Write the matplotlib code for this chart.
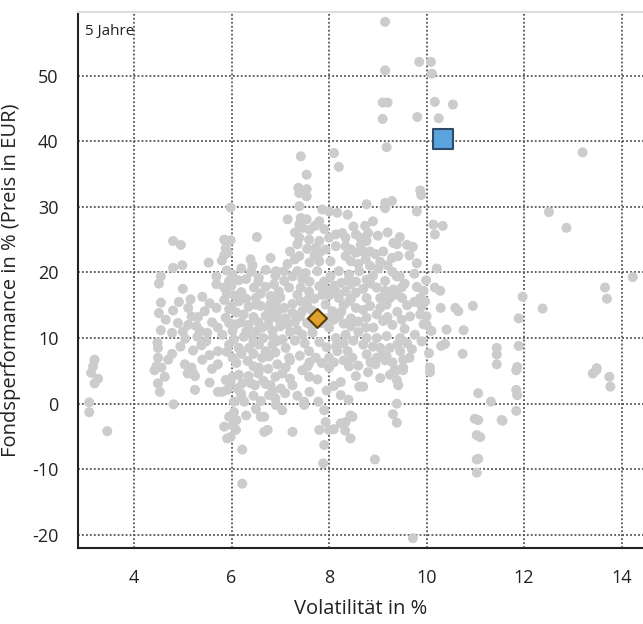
import matplotlib
matplotlib.use("Agg")
import matplotlib.pyplot as plt

# ---------- Data ----------
# peer group funds: volatility (%) and 5y performance (%)
peer_vol = [
    3.08, 3.08, 3.45, 3.12, 3.26, 3.19, 3.19, 3.16,
    4.49, 4.53, 4.63, 4.81, 5.21, 5.25, 5.25, 5.72, 4.42,
    4.80, 4.96, 4.80, 4.99, 5.53, 4.55, 4.51, 5.69, 5.69, 4.55, 4.51, 4.80, 4.92,
    5.16, 5.11, 5.18, 5.45, 5.31, 5.11, 5.28, 5.35, 5.69, 5.72, 4.55, 4.78, 4.48,
    4.49, 5.21, 5.38, 5.48, 4.78, 4.70, 4.49, 4.46, 4.56, 5.04, 5.18, 5.72, 5.72,
    7.39, 7.54, 5.98, 7.39, 7.86, 8.00, 8.17, 8.38, 7.15, 7.42, 7.54, 7.39, 7.45,
    7.71, 6.52, 5.98, 5.88, 5.92, 5.85, 7.39, 7.59, 7.80, 8.00, 8.14, 8.27, 8.34,
    7.73, 7.80, 7.93, 8.14, 8.34, 8.55, 6.80, 6.39, 6.43, 7.39, 7.80, 8.03, 8.34,
    8.45, 8.55, 6.02, 5.95, 5.85, 6.56, 6.46, 6.91, 7.08, 6.87, 7.08, 7.18, 6.97,
    7.35, 7.52, 7.76, 8.03, 8.20, 8.41, 8.62, 7.42, 7.59, 7.80, 7.86, 8.14, 8.34,
    8.45, 6.15, 5.95, 5.88, 6.09, 6.02, 5.81, 6.50, 6.60, 6.77, 6.91, 7.08, 7.25,
    6.77, 6.97, 7.15, 6.63, 6.84, 6.43, 7.42, 7.59, 7.45, 7.93, 8.07, 8.20, 8.41,
    8.55, 7.45, 7.66, 8.00, 8.14, 8.34, 8.45, 5.95, 6.15, 6.36, 6.56, 6.84, 7.11,
    6.02, 6.33, 6.63, 6.77, 6.94, 7.18, 7.59, 7.73, 8.00, 8.17, 8.38, 8.48, 6.56,
    7.11, 7.56, 8.00, 8.41,
    9.89, 8.77, 9.15, 9.29, 9.15, 9.80, 10.14, 10.33, 10.17, 8.74, 8.64, 8.77,
    8.84, 8.70, 9.11, 9.32, 9.39, 9.29, 9.42, 9.72, 8.84, 9.01, 8.77, 9.39, 9.15,
    8.98, 9.15, 9.32, 9.49, 9.05, 9.25, 9.39, 10.21, 9.99, 10.17, 10.28, 9.94,
    9.87, 9.97, 8.77, 8.84, 9.05, 9.18, 8.98, 8.77, 9.49, 9.66, 9.87, 10.00, 9.94,
    9.76, 10.29, 10.59, 10.65, 10.95, 8.91, 9.11, 8.77, 8.98, 9.18, 9.46, 9.05,
    9.25, 10.41, 10.76, 10.38, 10.74, 11.44, 11.44, 11.44, 8.77, 8.98, 9.18, 9.46,
    9.52, 9.52, 10.07,
    5.88, 6.02, 6.15, 6.22, 6.12, 5.91, 5.81, 6.19, 6.26, 6.05, 5.98,
    6.48, 6.77, 6.80, 7.01, 6.56, 7.04, 6.91, 7.04, 7.49, 7.49, 7.78, 7.45, 7.59,
    7.76, 8.24, 8.24, 8.62, 5.95, 6.02, 6.09, 5.91, 5.98, 6.22, 6.22, 6.60, 6.67,
    6.67, 6.74, 7.25, 7.80, 7.93, 7.90, 7.88, 8.00, 8.10, 8.24, 8.34, 8.44, 8.48,
    8.33, 8.44,
    8.70, 9.39, 9.52, 9.39, 9.42, 10.07, 9.39, 9.31, 9.39, 8.94, 9.72, 11.06,
    11.32, 10.99, 11.06, 11.03, 11.10, 11.03, 11.06, 11.03, 11.54,
    11.84, 11.84, 11.86, 11.84, 11.56, 13.41, 13.48, 13.75, 13.77,
    12.51, 12.87, 14.23, 13.66, 13.70, 11.97, 12.38, 11.89, 11.89, 11.86, 13.49,
    13.20,
    9.15, 9.85, 10.09, 9.15, 10.11, 9.10, 9.20, 10.17, 10.54, 9.10, 9.81, 10.25,
    9.18, 9.87,
    7.42, 8.10, 8.20, 7.54, 7.37, 7.54,
    # denser core
    5.85, 5.90, 6.05, 6.20, 6.30, 6.35, 6.25, 6.10, 5.95, 6.20, 6.35, 6.45, 6.55,
    6.70, 6.85, 6.95, 6.60, 6.70, 6.80, 6.55, 6.30, 6.15, 6.00, 6.40, 6.70, 6.90,
    6.20, 5.90, 6.05, 6.25, 6.45, 6.65, 6.85, 6.95, 6.20, 6.45, 6.70, 6.90, 5.90,
    6.10, 6.45, 6.75, 6.30, 6.00, 6.50, 6.80, 7.00, 7.00, 6.75, 6.50,
    7.10, 7.30, 7.40, 7.55, 7.35, 7.20, 7.05, 7.30, 7.50, 7.25, 7.35, 7.55, 7.65,
    7.60, 7.45, 7.25, 7.15, 7.30, 7.60, 7.70, 7.55, 7.35, 7.20, 7.90, 7.95, 7.70,
    7.95, 7.85, 8.00, 7.20, 7.40, 7.60, 7.85, 7.95, 7.80, 7.65, 7.30, 7.60, 7.90,
    7.80,
    8.10, 8.20, 8.30, 8.45, 8.60, 8.75, 8.60, 8.50, 8.30, 8.15, 8.70, 8.90, 8.85,
    8.60, 8.30, 8.10, 8.55, 8.70, 8.85, 8.90, 8.60, 8.75, 8.95, 9.05, 9.20, 9.30,
    9.45, 9.55, 9.50, 9.60, 9.40, 9.20, 9.30, 9.55, 9.60, 9.40, 9.10, 9.30, 9.65,
    9.70, 8.45, 8.30, 8.25, 8.70, 8.55, 8.40, 8.25, 8.10, 8.45, 8.65, 8.80, 8.50,
    8.90, 9.00, 9.20, 9.45, 9.60, 9.65, 9.80, 9.75, 9.80, 9.90, 9.75, 10.00,
    10.10, 9.90, 10.05, 10.30,
    6.35, 6.45, 6.60, 6.90, 7.10, 7.25, 7.35, 7.60, 7.95, 8.10, 8.40, 8.55, 7.90,
    7.20, 6.90, 6.65, 6.10, 6.30, 6.50, 5.85, 6.05, 6.20, 6.40, 6.55,
    4.65, 4.90, 5.00, 5.05, 4.95, 5.30, 5.50, 5.60, 5.55, 5.40, 5.00, 5.55, 5.40,
    5.60, 5.10, 5.55, 5.80, 5.85,
    8.95, 9.15, 9.35, 8.80, 9.05, 9.25, 6.70, 6.85,
]
peer_perf = [
    0.2, -1.3, -4.2, 4.7, 3.8, 3.1, 6.7, 5.7,
    3.1, 1.8, 4.1, -0.1, 4.7, 4.2, 2.1, 1.8, 5.1,
    24.8, 24.2, 20.7, 21.1, 21.5, 19.4, 18.3, 19.4, 18.2, 15.4, 13.8, 14.2, 15.5,
    15.9, 14.6, 13.3, 14.1, 13.2, 12.0, 11.8, 11.1, 14.6, 11.6, 11.2, 10.8, 9.3,
    8.5, 8.1, 8.9, 9.5, 7.6, 6.7, 7.0, 5.7, 5.5, 6.0, 5.5, 8.0, 6.0,
    32.1, 31.6, 29.9, 30.1, 29.6, 29.3, 29.1, 28.8, 28.1, 28.3, 28.1, 27.3, 26.8,
    27.1, 25.4, 24.9, 23.7, 23.0, 22.6, 25.3, 25.0, 24.8, 25.3, 25.8, 26.0, 25.3,
    23.8, 23.0, 23.5, 24.0, 24.0, 25.8, 22.2, 22.0, 21.1, 22.5, 21.7, 21.7, 22.5,
    21.7, 23.0, 19.7, 18.7, 17.7, 19.2, 17.7, 20.2, 20.2, 18.2, 18.7, 17.7, 17.1,
    20.2, 19.9, 20.2, 19.4, 20.2, 19.7, 20.2, 17.7, 17.1, 17.9, 16.6, 17.1, 17.1,
    18.2, 15.6, 14.4, 13.1, 12.1, 11.1, 10.5, 16.1, 14.9, 14.4, 15.4, 14.6, 13.8,
    12.8, 12.8, 12.1, 11.6, 11.1, 10.5, 15.6, 16.1, 14.1, 15.1, 14.1, 16.1, 15.6,
    14.6, 10.5, 10.8, 11.6, 10.0, 10.5, 11.8, 9.0, 8.5, 8.5, 9.0, 9.0, 8.5,
    7.0, 6.5, 7.0, 7.2, 6.0, 7.0, 8.0, 7.0, 7.0, 8.0, 8.0, 7.0, 5.5,
    5.5, 5.7, 5.5, 5.7,
    31.8, 30.4, 30.6, 30.9, 29.8, 29.3, 27.3, 27.1, 25.8, 27.1, 25.3, 24.8,
    23.2, 23.2, 23.2, 24.5, 24.3, 22.2, 22.5, 23.9, 21.0, 20.6, 18.9, 19.4, 18.7,
    17.7, 17.2, 17.4, 17.7, 16.1, 16.1, 16.6, 20.6, 18.8, 17.7, 17.2, 17.2,
    16.1, 15.6, 16.1, 14.9, 14.6, 15.1, 13.6, 13.1, 12.8, 13.3, 13.6, 13.3, 12.1,
    10.5, 14.6, 14.6, 14.1, 14.9, 11.6, 12.6, 10.0, 10.0, 10.3, 10.0, 8.5,
    8.5, 11.3, 11.2, 9.1, 7.6, 8.5, 7.5, 6.0, 7.5, 7.0, 7.2, 8.0,
    6.7, 5.5, 5.5,
    3.6, 4.1, 4.4, 3.1, 2.3, 2.1, 1.8, 1.6, 0.3, 0.3, 3.1,
    2.8, 1.3, 2.8, 2.3, 5.1, 4.6, -0.2, -1.0, 0.3, -0.2, 0.3, 5.1, 4.1,
    3.7, 3.3, 1.3, 2.6, -2.0, -3.3, -4.0, -5.3, -5.1, -7.0, -12.2, -2.0, -2.0,
    -4.3, -4.0, -4.3, -4.0, -2.8, -6.3, -9.1, -4.0, -3.9, -3.0, -2.8, -1.8, -2.0,
    -4.1, -5.3,
    2.6, 5.1, 5.1, 3.6, 2.8, 4.8, 0.0, -1.6, -2.9, -8.5, -20.5, 1.6,
    0.3, -2.3, -2.5, -4.8, -5.1, -8.5, -8.4, -10.5, -2.5,
    5.1, 2.1, 1.3, -1.1, -2.6, 4.6, 5.1, 4.1, 2.6,
    29.2, 26.8, 19.3, 17.7, 16.0, 16.3, 14.5, 13.0, 8.8, 5.6, 5.4,
    38.3,
    58.2, 52.1, 52.1, 50.8, 50.3, 45.9, 45.9, 46.0, 45.6, 43.4, 43.7, 43.5,
    39.1, 32.5,
    37.7, 38.2, 36.1, 34.9, 32.9, 32.7,
    # denser core
    15.8, 16.8, 16.5, 17.0, 16.0, 14.8, 13.6, 13.9, 12.3, 12.4, 12.0, 13.2, 12.4,
    13.4, 13.9, 14.1, 16.8, 17.8, 16.4, 18.6, 19.0, 18.8, 18.0, 20.1, 20.4, 19.5,
    20.6, 20.3, 9.8, 10.2, 9.5, 10.0, 10.2, 9.6, 7.6, 7.6, 8.0, 7.8, 7.9,
    6.2, 5.7, 5.3, 11.0, 14.9, 15.1, 15.2, 16.2, 11.8, 11.9, 11.0,
    13.0, 12.5, 13.3, 12.3, 11.2, 10.9, 9.8, 9.6, 9.2, 15.2, 16.6, 15.0, 14.2,
    18.6, 19.0, 19.4, 21.3, 22.0, 21.5, 22.6, 23.6, 24.3, 23.2, 18.6, 17.3, 16.0,
    13.0, 12.3, 16.5, 6.6, 7.3, 6.3, 6.2, 8.6, 9.4, 11.8, 26.1, 26.5, 26.6,
    27.8,
    12.8, 13.3, 12.2, 13.0, 12.5, 11.6, 10.9, 9.6, 9.2, 8.8, 9.0, 8.7, 6.3,
    5.8, 6.6, 6.3, 18.6, 17.5, 18.3, 19.5, 21.3, 22.0, 22.8, 21.6, 21.1, 20.1,
    19.4, 18.3, 16.1, 15.0, 14.0, 13.2, 12.0, 11.4, 9.2, 9.0, 7.5, 6.3, 7.0,
    8.3, 16.0, 15.0, 14.0, 14.3, 16.9, 18.9, 18.4, 18.0, 23.5, 24.2, 26.0, 27.0,
    27.8, 25.6, 26.1, 25.4, 24.2, 22.6, 21.4, 19.8, 17.8, 14.8, 15.5, 12.0,
    11.1, 9.5, 7.7, 8.8,
    4.2, 1.2, 0.4, 0.8, 1.6, 2.8, 1.2, 1.8, 2.0, 2.7, 0.6, 4.2, -1.0,
    3.8, 4.1, 3.5, -2.5, -1.8, -0.8, -3.5, -1.3, 1.0, 3.1, 4.6,
    12.8, 12.3, 11.0, 9.9, 8.7, 10.2, 10.8, 12.4, 15.3, 16.3, 17.5, 7.4, 6.7,
    5.3, 4.6, 3.2, 21.8, 25.0,
    6.0, 6.6, 5.2, 4.8, 3.9, 4.4, 3.0, 1.9,
]

# highlighted fund and peer group average
fund_vol, fund_perf = [10.33], [40.4]
avg_vol, avg_perf = [7.75], [13.1]

x_ticks = [4, 6, 8, 10, 12, 14]
y_ticks = [-20, -10, 0, 10, 20, 30, 40, 50]

# ---------- Plot ----------
plt.rcParams["font.family"] = ["Open Sans", "DejaVu Sans"]
plt.rcParams["axes.unicode_minus"] = False

fig = plt.figure(figsize=(6.43, 6.24), dpi=100)
ax = fig.add_axes([78 / 643, 76 / 624, 565 / 643, 536 / 624])

ax.scatter(peer_vol, peer_perf, s=52, color="#cccccc", edgecolors="none", zorder=2)
ax.scatter(avg_vol, avg_perf, marker="D", s=94, color="#dea22a",
           edgecolors="#5a3d0a", linewidths=1.5, zorder=3)
ax.scatter(fund_vol, fund_perf, marker="s", s=188, color="#5ca4dd",
           edgecolors="#2f4a66", linewidths=1.5, zorder=4)

ax.set_xlim(2.85, 14.44)
ax.set_ylim(-22.0, 59.7)
ax.set_xticks(x_ticks)
ax.set_yticks(y_ticks)
ax.tick_params(length=0, labelsize=13, colors="#222222")
ax.tick_params(axis="x", pad=15)
ax.tick_params(axis="y", pad=14)

ax.grid(True, color="#555555", linestyle=(0, (1, 1.2)), linewidth=1.3)
ax.set_axisbelow(True)

for side in ["left", "bottom"]:
    ax.spines[side].set_color("#222222")
    ax.spines[side].set_linewidth(1.5)
ax.spines["top"].set_color("#dddddd")
ax.spines["top"].set_linewidth(1.5)
ax.spines["right"].set_visible(False)

ax.set_xlabel("Volatilität in %", fontsize=14.5, color="#222222", labelpad=9)
ax.set_ylabel("Fondsperformance in % (Preis in EUR)", fontsize=14.5,
              color="#222222", labelpad=8)

ax.text(0.012, 0.978, "5 Jahre", transform=ax.transAxes, fontsize=11,
        va="top", ha="left", color="#222222")

fig.savefig("out.png", dpi=100)
